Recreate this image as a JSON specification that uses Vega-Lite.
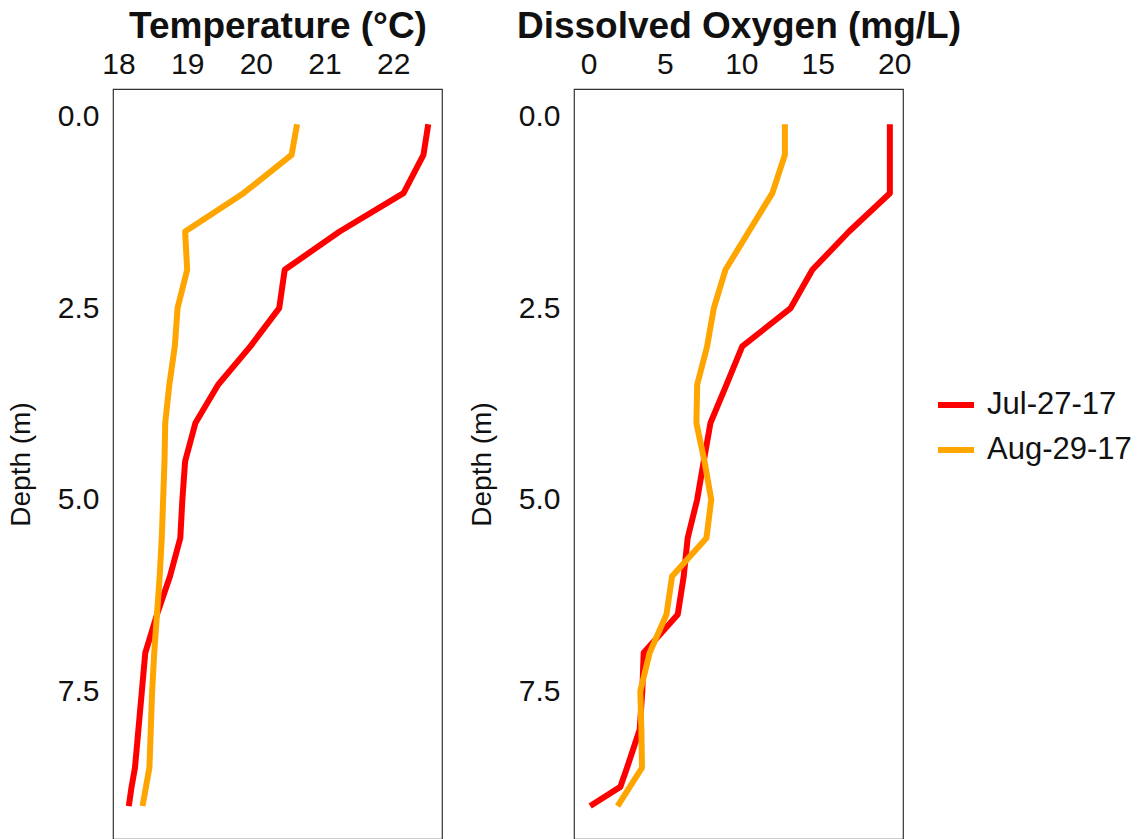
{
  "$schema": "https://vega.github.io/schema/vega-lite/v6.json",
  "padding": {"left": 6, "top": 6, "right": 5, "bottom": 2},
  "background": "white",
  "config": {
    "font": "Liberation Sans",
    "view": {"stroke": "#333333", "strokeWidth": 1.2},
    "axis": {
      "grid": false, "ticks": false, "tickSize": 0, "domain": false,
      "labelFont": "Liberation Sans", "labelFontSize": 30, "labelColor": "#111111",
      "titleFont": "Liberation Sans", "titleFontSize": 28, "titleFontWeight": "normal", "titleColor": "#111111"
    },
    "legend": {
      "labelFont": "Liberation Sans", "labelFontSize": 31, "labelColor": "#111111"
    }
  },
  "datasets": {
    "profiles": [
      {"date": "Jul-27-17", "depth": 0.1, "temp": 22.51, "do": 19.72},
      {"date": "Jul-27-17", "depth": 0.5, "temp": 22.44, "do": 19.72},
      {"date": "Jul-27-17", "depth": 1.0, "temp": 22.15, "do": 19.72},
      {"date": "Jul-27-17", "depth": 1.5, "temp": 21.22, "do": 17.05},
      {"date": "Jul-27-17", "depth": 2.0, "temp": 20.42, "do": 14.65},
      {"date": "Jul-27-17", "depth": 2.5, "temp": 20.34, "do": 13.23},
      {"date": "Jul-27-17", "depth": 3.0, "temp": 19.92, "do": 10.06},
      {"date": "Jul-27-17", "depth": 3.5, "temp": 19.45, "do": 9.03},
      {"date": "Jul-27-17", "depth": 4.0, "temp": 19.12, "do": 7.98},
      {"date": "Jul-27-17", "depth": 4.5, "temp": 18.97, "do": 7.54},
      {"date": "Jul-27-17", "depth": 5.0, "temp": 18.93, "do": 7.11},
      {"date": "Jul-27-17", "depth": 5.5, "temp": 18.90, "do": 6.49},
      {"date": "Jul-27-17", "depth": 6.0, "temp": 18.75, "do": 6.23},
      {"date": "Jul-27-17", "depth": 6.5, "temp": 18.56, "do": 5.84},
      {"date": "Jul-27-17", "depth": 7.0, "temp": 18.39, "do": 3.61},
      {"date": "Jul-27-17", "depth": 7.5, "temp": 18.34, "do": 3.52},
      {"date": "Jul-27-17", "depth": 8.0, "temp": 18.29, "do": 3.35},
      {"date": "Jul-27-17", "depth": 8.5, "temp": 18.24, "do": 2.52},
      {"date": "Jul-27-17", "depth": 8.75, "temp": 18.19, "do": 2.08},
      {"date": "Jul-27-17", "depth": 9.0, "temp": 18.15, "do": 0.11},
      {"date": "Aug-29-17", "depth": 0.1, "temp": 20.60, "do": 12.85},
      {"date": "Aug-29-17", "depth": 0.5, "temp": 20.52, "do": 12.85},
      {"date": "Aug-29-17", "depth": 1.0, "temp": 19.82, "do": 12.03},
      {"date": "Aug-29-17", "depth": 1.5, "temp": 18.97, "do": 10.49},
      {"date": "Aug-29-17", "depth": 2.0, "temp": 19.00, "do": 8.96},
      {"date": "Aug-29-17", "depth": 2.5, "temp": 18.86, "do": 8.20},
      {"date": "Aug-29-17", "depth": 3.0, "temp": 18.82, "do": 7.76},
      {"date": "Aug-29-17", "depth": 3.5, "temp": 18.74, "do": 7.11},
      {"date": "Aug-29-17", "depth": 4.0, "temp": 18.68, "do": 7.06},
      {"date": "Aug-29-17", "depth": 4.5, "temp": 18.67, "do": 7.59},
      {"date": "Aug-29-17", "depth": 5.0, "temp": 18.65, "do": 8.03},
      {"date": "Aug-29-17", "depth": 5.5, "temp": 18.63, "do": 7.72},
      {"date": "Aug-29-17", "depth": 6.0, "temp": 18.60, "do": 5.47},
      {"date": "Aug-29-17", "depth": 6.5, "temp": 18.56, "do": 5.10},
      {"date": "Aug-29-17", "depth": 7.0, "temp": 18.52, "do": 4.00},
      {"date": "Aug-29-17", "depth": 7.5, "temp": 18.49, "do": 3.39},
      {"date": "Aug-29-17", "depth": 8.0, "temp": 18.47, "do": 3.46},
      {"date": "Aug-29-17", "depth": 8.5, "temp": 18.45, "do": 3.50},
      {"date": "Aug-29-17", "depth": 9.0, "temp": 18.35, "do": 1.90}
    ]
  },
  "spacing": 24,
  "resolve": {"scale": {"color": "shared"}},
  "hconcat": [
    {
      "width": 329,
      "height": 750,
      "data": {"name": "profiles"},
      "mark": {"type": "line", "strokeWidth": 6, "strokeCap": "butt", "strokeJoin": "round"},
      "encoding": {
        "x": {
          "field": "temp", "type": "quantitative",
          "scale": {"domain": [17.92, 22.71], "nice": false, "zero": false},
          "axis": {"orient": "top", "values": [18, 19, 20, 21, 22], "format": "d",
                   "title": "Temperature (°C)", "titleFontWeight": "bold", "titleFontSize": 37,
                   "labelPadding": 10, "titlePadding": 4}
        },
        "y": {
          "field": "depth", "type": "quantitative",
          "scale": {"domain": [-0.36, 9.43], "reverse": true, "nice": false, "zero": false},
          "axis": {"values": [0, 2.5, 5, 7.5], "format": ".1f", "title": "Depth (m)",
                   "labelPadding": 14, "titlePadding": 22}
        },
        "color": {
          "field": "date", "type": "nominal",
          "scale": {"domain": ["Jul-27-17", "Aug-29-17"], "range": ["#FF0000", "#FFA500"]},
          "legend": {"title": null, "orient": "none", "legendX": 822, "legendY": 295,
                     "symbolType": "stroke", "symbolSize": 1296, "symbolStrokeWidth": 6,
                     "labelOffset": 10, "rowPadding": 9}
        },
        "order": {"field": "depth", "type": "quantitative"}
      }
    },
    {
      "width": 329,
      "height": 750,
      "data": {"name": "profiles"},
      "mark": {"type": "line", "strokeWidth": 6, "strokeCap": "butt", "strokeJoin": "round"},
      "encoding": {
        "x": {
          "field": "do", "type": "quantitative",
          "scale": {"domain": [-0.95, 20.58], "nice": false, "zero": false},
          "axis": {"orient": "top", "values": [0, 5, 10, 15, 20], "format": "d",
                   "title": "Dissolved Oxygen (mg/L)", "titleFontWeight": "bold", "titleFontSize": 37,
                   "labelPadding": 10, "titlePadding": 4}
        },
        "y": {
          "field": "depth", "type": "quantitative",
          "scale": {"domain": [-0.36, 9.43], "reverse": true, "nice": false, "zero": false},
          "axis": {"values": [0, 2.5, 5, 7.5], "format": ".1f", "title": "Depth (m)",
                   "labelPadding": 14, "titlePadding": 22}
        },
        "color": {"field": "date", "type": "nominal"},
        "order": {"field": "depth", "type": "quantitative"}
      }
    }
  ]
}
